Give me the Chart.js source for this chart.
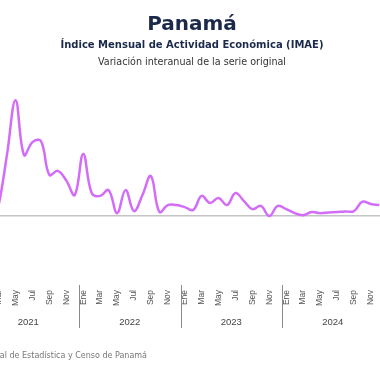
<!DOCTYPE html>
<html><head><meta charset="utf-8">
<script src="https://cdn.jsdelivr.net/npm/chart.js@4"></script>
<style>
html,body{margin:0;padding:0;width:380px;height:380px;overflow:hidden;background:#fff;position:relative;font-family:"DejaVu Sans",sans-serif}
#wrap{position:absolute;left:-30px;top:0;width:446px;height:380px}
.t{position:absolute;left:0;width:384px;text-align:center;white-space:nowrap}
#t1{top:11px;font-size:20px;font-weight:bold;color:#1b2a4a}
#t2{top:39px;font-size:10px;font-weight:bold;color:#1b2a4a}
#t3{top:56px;font-size:9.6px;color:#333}
#src{position:absolute;right:233px;top:351px;font-size:8px;color:#777;white-space:nowrap}
</style></head><body>
<div id="wrap"><canvas id="c" width="446" height="380"></canvas></div>
<div class="t" id="t1">Panamá</div>
<div class="t" id="t2">Índice Mensual de Actividad Económica (IMAE)</div>
<div class="t" id="t3">Variación interanual de la serie original</div>
<div id="src">Fuente: Instituto Nacional de Estadística y Censo de Panamá</div>
<script>
const months = ['Ene','Feb','Mar','Abr','May','Jun','Jul','Ago','Sep','Oct','Nov','Dic'];
const years = ['2021','2022','2023','2024'];
const categories = years.flatMap(y => months.map(m => m + ' ' + y));
const values2021 = [-12, -6, 3.8, 21.6, 40.3, 21.2, 25.7, 26.1, 14.3, 15.7, 12.3, 7.3];
const values2022 = [21.6, 8.0, 7.0, 9.0, 1.0, 9.0, 1.7, 7.3, 13.9, 1.4, 3.8, 3.8];
const values2023 = [3.1, 2.1, 7.0, 4.5, 6.3, 3.8, 8.0, 5.2, 2.4, 3.5, 0.0, 3.5];
const values2024 = [2.4, 1.0, 0.3, 1.4, 1.0, 1.2, 1.4, 1.6, 1.7, 5.0, 4.2, 3.8];
const values = [].concat(values2021, values2022, values2023, values2024);
const yearCenters = years.map((_, i) => i * 12 + 5.5);

const yearSeparators = {
  id: 'yearSeparators',
  afterDraw(chart) {
    const x = chart.scales.x, x2 = chart.scales.x2, ctx = chart.ctx;
    const half = (x.getPixelForValue(1) - x.getPixelForValue(0)) / 2;
    ctx.save();
    ctx.strokeStyle = '#8a8a8a';
    ctx.lineWidth = 1;
    for (let i = 12; i < categories.length; i += 12) {
      const px = Math.round(x.getPixelForValue(i) - half) + 0.5;
      ctx.beginPath();
      ctx.moveTo(px, chart.chartArea.bottom);
      ctx.lineTo(px, x2.bottom - 1);
      ctx.stroke();
    }
    ctx.restore();
  }
};

new Chart(document.getElementById('c'), {
  type: 'line',
  data: {
    labels: categories,
    datasets: [{
      data: values,
      borderColor: '#d36cf8',
      borderWidth: 2.5,
      tension: 0.4,
      pointRadius: 0,
      fill: false
    }]
  },
  options: {
    responsive: false,
    animation: false,
    devicePixelRatio: 1,
    layout: { padding: { top: 78, left: 7.5, right: 32.5, bottom: 51 } },
    plugins: { legend: { display: false }, tooltip: { enabled: false } },
    scales: {
      x: {
        type: 'category', offset: true, position: 'bottom',
        grid: { display: false, drawTicks: false }, border: { display: false },
        ticks: {
          autoSkip: false, maxRotation: 90, minRotation: 90, padding: 5,
          color: '#555', font: { family: 'Liberation Sans', size: 8.5 },
          callback: (v, i) => i % 2 === 0 ? months[i % 12] : ''
        },
        afterFit: s => { s.height = 30; }
      },
      x2: {
        type: 'linear', position: 'bottom', min: -0.5, max: 47.5,
        grid: { display: false, drawTicks: false }, border: { display: false },
        afterBuildTicks: s => { s.ticks = yearCenters.map(v => ({ value: v })); },
        ticks: {
          autoSkip: false, maxRotation: 0, minRotation: 0, padding: 2,
          color: '#444', font: { family: 'Liberation Sans', size: 9.5 },
          callback: v => years[Math.round((v - 5.5) / 12)]
        },
        afterFit: s => { s.height = 14; }
      },
      y: {
        min: -24, max: 48, position: 'left',
        afterBuildTicks: s => { s.ticks = [{ value: 0 }]; },
        ticks: { display: false }, border: { display: false },
        grid: { color: '#c4c4c4', lineWidth: 1.5, drawTicks: false },
        afterFit: s => { s.width = 0; }
      }
    }
  },
  plugins: [yearSeparators]
});
</script>
</body></html>
